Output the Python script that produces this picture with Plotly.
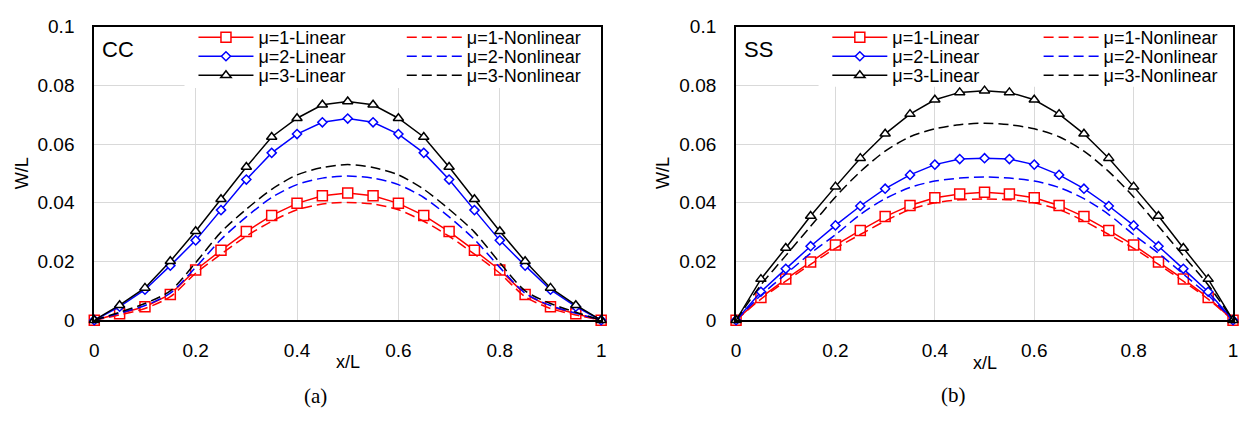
import plotly.graph_objects as go

# Positions along the beam
x_over_L = [0, 0.05, 0.1, 0.15, 0.2, 0.25, 0.3, 0.35, 0.4, 0.45, 0.5,
            0.55, 0.6, 0.65, 0.7, 0.75, 0.8, 0.85, 0.9, 0.95, 1]

# Clamped-clamped (CC) deflections W/L
cc_lin_mu1 = [0, 0.0022, 0.0046, 0.0088, 0.0171, 0.0238, 0.0302, 0.0357, 0.0398, 0.0424, 0.0433,
              0.0424, 0.0398, 0.0357, 0.0302, 0.0238, 0.0171, 0.0088, 0.0046, 0.0022, 0]
cc_lin_mu2 = [0, 0.0046, 0.0104, 0.0186, 0.0272, 0.0375, 0.0479, 0.0570, 0.0634, 0.0674, 0.0687,
              0.0674, 0.0634, 0.0570, 0.0479, 0.0375, 0.0272, 0.0186, 0.0104, 0.0046, 0]
cc_lin_mu3 = [0, 0.0051, 0.0110, 0.0201, 0.0303, 0.0412, 0.0522, 0.0624, 0.0688, 0.0734, 0.0745,
              0.0734, 0.0688, 0.0624, 0.0522, 0.0412, 0.0303, 0.0201, 0.0110, 0.0051, 0]
cc_nl_mu1 = [0, 0.0018, 0.0040, 0.0080, 0.0160, 0.0225, 0.0286, 0.0337, 0.0376, 0.0396, 0.0401,
             0.0396, 0.0376, 0.0337, 0.0286, 0.0225, 0.0160, 0.0080, 0.0040, 0.0018, 0]
cc_nl_mu2 = [0, 0.0024, 0.0050, 0.0092, 0.0180, 0.0275, 0.0352, 0.0418, 0.0462, 0.0484, 0.0491,
             0.0484, 0.0462, 0.0418, 0.0352, 0.0275, 0.0180, 0.0092, 0.0050, 0.0024, 0]
cc_nl_mu3 = [0, 0.0027, 0.0057, 0.0100, 0.0196, 0.0300, 0.0378, 0.0446, 0.0495, 0.0520, 0.0530,
             0.0520, 0.0495, 0.0446, 0.0378, 0.0300, 0.0196, 0.0100, 0.0057, 0.0027, 0]

# Simply-supported (SS) deflections W/L
ss_lin_mu1 = [0, 0.0077, 0.0140, 0.0198, 0.0256, 0.0306, 0.0353, 0.0391, 0.0417, 0.0430, 0.0436,
              0.0430, 0.0417, 0.0391, 0.0353, 0.0306, 0.0256, 0.0198, 0.0140, 0.0077, 0]
ss_lin_mu2 = [0, 0.0097, 0.0175, 0.0252, 0.0323, 0.0389, 0.0448, 0.0495, 0.0530, 0.0549, 0.0552,
              0.0549, 0.0530, 0.0495, 0.0448, 0.0389, 0.0323, 0.0252, 0.0175, 0.0097, 0]
ss_lin_mu3 = [0, 0.0140, 0.0246, 0.0355, 0.0455, 0.0552, 0.0635, 0.0702, 0.0751, 0.0776, 0.0782,
              0.0776, 0.0751, 0.0702, 0.0635, 0.0552, 0.0455, 0.0355, 0.0246, 0.0140, 0]
ss_nl_mu1 = [0, 0.0072, 0.0133, 0.0190, 0.0245, 0.0292, 0.0338, 0.0377, 0.0400, 0.0410, 0.0413,
             0.0410, 0.0400, 0.0377, 0.0338, 0.0292, 0.0245, 0.0190, 0.0133, 0.0072, 0]
ss_nl_mu2 = [0, 0.0085, 0.0157, 0.0228, 0.0291, 0.0360, 0.0414, 0.0452, 0.0474, 0.0484, 0.0488,
             0.0484, 0.0474, 0.0452, 0.0414, 0.0360, 0.0291, 0.0228, 0.0157, 0.0085, 0]
ss_nl_mu3 = [0, 0.0120, 0.0220, 0.0320, 0.0420, 0.0506, 0.0576, 0.0625, 0.0652, 0.0666, 0.0671,
             0.0666, 0.0652, 0.0625, 0.0576, 0.0506, 0.0420, 0.0320, 0.0220, 0.0120, 0]

mu_labels = ["μ=1", "μ=2", "μ=3"]
colors = ["#ff0000", "#0000ff", "#000000"]
symbols = ["square", "diamond", "triangle-up"]
marker_sizes = [10, 7, 9]

W, H = 1242, 421
FONT = "Liberation Sans, Arial, sans-serif"

fig = go.Figure()

panels = [
    dict(xa="x", ya="y", lin=[cc_lin_mu1, cc_lin_mu2, cc_lin_mu3],
         nl=[cc_nl_mu1, cc_nl_mu2, cc_nl_mu3], leg_x=(190, 400)),
    dict(xa="x2", ya="y2", lin=[ss_lin_mu1, ss_lin_mu2, ss_lin_mu3],
         nl=[ss_nl_mu1, ss_nl_mu2, ss_nl_mu3], leg_x=(829, 1042)),
]

# vertical centres (px from top) of the three legend rows
row_y = [29, 49, 69]
legends = {}
leg_idx = 0

for p in panels:
    for i in range(3):
        # linear series: solid line with open markers
        leg_idx += 1
        lname = "legend" if leg_idx == 1 else f"legend{leg_idx}"
        fig.add_trace(go.Scatter(
            x=x_over_L, y=p["lin"][i], xaxis=p["xa"], yaxis=p["ya"],
            mode="lines+markers", name=f"{mu_labels[i]}-Linear",
            line=dict(color=colors[i], width=1.5),
            marker=dict(symbol=symbols[i], size=marker_sizes[i],
                        color="white", line=dict(color=colors[i], width=1.5)),
            cliponaxis=False, legend=lname, showlegend=True))
        legends[lname] = dict(x=p["leg_x"][0] / W, y=1 - row_y[i] / H)
        # nonlinear series: smooth dashed line
        leg_idx += 1
        lname = f"legend{leg_idx}"
        fig.add_trace(go.Scatter(
            x=x_over_L, y=p["nl"][i], xaxis=p["xa"], yaxis=p["ya"],
            mode="lines", name=f"{mu_labels[i]}-Nonlinear",
            line=dict(color=colors[i], width=1.5, dash="10px,5px", shape="spline", smoothing=0.8),
            cliponaxis=False, legend=lname, showlegend=True))
        legends[lname] = dict(x=p["leg_x"][1] / W, y=1 - row_y[i] / H)

for lname, pos in legends.items():
    fig.layout[lname] = dict(
        x=pos["x"], y=pos["y"], xanchor="left", yanchor="middle",
        bgcolor="rgba(0,0,0,0)", borderwidth=0, itemwidth=55,
        font=dict(family=FONT, size=18, color="#000"),
        itemclick=False, itemdoubleclick=False)

axis_common = dict(
    range=[0, 1], dtick=0.2, showgrid=True, gridcolor="#d9d9d9", gridwidth=1,
    showline=True, linecolor="black", linewidth=2, mirror=True,
    zeroline=False, ticks="", ticklabelstandoff=12,
    tickfont=dict(family=FONT, size=19, color="#000"), fixedrange=True)
yaxis_common = dict(
    range=[0, 0.1], dtick=0.02, showgrid=True, gridcolor="#d9d9d9", gridwidth=1,
    showline=True, linecolor="black", linewidth=2, mirror=True,
    zeroline=False, ticks="", ticklabelstandoff=14,
    tickfont=dict(family=FONT, size=19, color="#000"), fixedrange=True)

y_dom = [94.5 / H, 403.5 / H]
fig.update_layout(
    width=W, height=H, autosize=False, showlegend=True,
    margin=dict(l=0, r=0, t=0, b=0),
    paper_bgcolor="white", plot_bgcolor="white",
    xaxis=dict(axis_common, domain=[90 / W, 601 / W], anchor="y"),
    yaxis=dict(yaxis_common, domain=y_dom, anchor="x"),
    xaxis2=dict(axis_common, domain=[737 / W, 1238 / W], anchor="y2"),
    yaxis2=dict(yaxis_common, domain=y_dom, anchor="x2"),
)

# white legend panels over the grid
fig.add_shape(type="rect", xref="x", yref="y", x0=0.178, x1=1, y0=0.0791, y1=0.1,
              fillcolor="white", line=dict(width=0), layer="between")
fig.add_shape(type="rect", xref="x2", yref="y2", x0=0.166, x1=1, y0=0.0795, y1=0.1,
              fillcolor="white", line=dict(width=0), layer="between")

annotations = [
    dict(text="CC", x=0.012, y=0.0921, xref="x", yref="y", xanchor="left", yanchor="middle",
         font=dict(family=FONT, size=22, color="#000")),
    dict(text="SS", x=0.012, y=0.0921, xref="x2", yref="y2", xanchor="left", yanchor="middle",
         font=dict(family=FONT, size=22, color="#000")),
    dict(text="W/L", x=18 / W, y=1 - 172 / H, textangle=-90,
         font=dict(family=FONT, size=18, color="#000")),
    dict(text="W/L", x=664 / W, y=1 - 172 / H, textangle=-90,
         font=dict(family=FONT, size=18, color="#000")),
    dict(text="x/L", x=345.5 / W, y=1 - 370 / H,
         font=dict(family=FONT, size=18, color="#000")),
    dict(text="x/L", x=987.5 / W, y=1 - 372 / H,
         font=dict(family=FONT, size=18, color="#000")),
    dict(text="(a)", x=313 / W, y=1 - 406 / H,
         font=dict(family="Liberation Serif, Times New Roman, serif", size=21, color="#000")),
    dict(text="(b)", x=956 / W, y=1 - 405 / H,
         font=dict(family="Liberation Serif, Times New Roman, serif", size=21, color="#000")),
]
for a in annotations:
    a.setdefault("xref", "paper")
    a.setdefault("yref", "paper")
    a.setdefault("xanchor", "center")
    a.setdefault("yanchor", "middle")
    a["showarrow"] = False
    fig.add_annotation(**a)

fig.write_html("out.html", config={"displayModeBar": False})
